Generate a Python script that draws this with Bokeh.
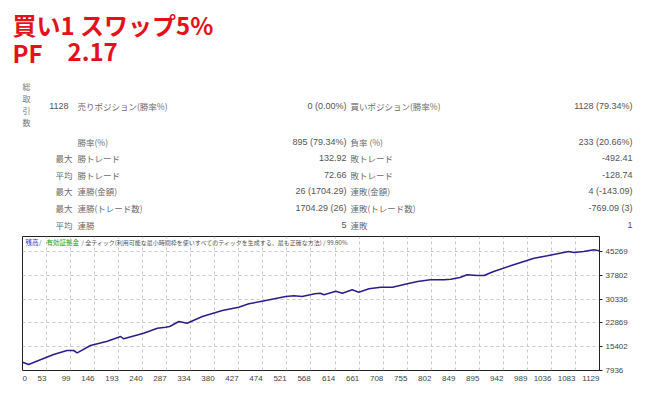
from bokeh.plotting import figure
from bokeh.models import Range1d, FixedTicker, Label
from bokeh.layouts import column
from bokeh.core.properties import value
from bokeh.embed import file_html
from bokeh.resources import INLINE

# ---------------- data ----------------
trade_index = [0, 12, 35, 61, 87, 100, 107, 133, 166, 192, 198, 237, 264, 280, 288, 306, 322,
               352, 391, 423, 443, 476, 515, 531, 547, 572, 583, 590, 613, 626, 645, 658, 678,
               701, 724, 753, 773, 798, 825, 838, 856, 870, 890, 903, 922, 955, 1001, 1027,
               1059, 1069, 1079, 1098, 1118, 1128]
balance = [10540, 9818, 11292, 12955, 14210, 14210, 13490, 15780, 17130, 18600, 17880, 19640,
           21200, 21520, 21740, 23310, 22770, 24870, 26760, 27790, 28860, 29890, 31150, 31370,
           31150, 32000, 32180, 31680, 32810, 32180, 33250, 32500, 33560, 34070, 34070, 35130,
           35860, 36390, 36390, 36580, 37100, 37960, 37740, 37740, 38990, 40780, 43160, 43920,
           44950, 45270, 44950, 45270, 45800, 45490]

x_tick_labels = ["0", "53", "99", "146", "193", "240", "287", "334", "380", "427", "474", "521",
                 "568", "614", "661", "708", "755", "802", "849", "895", "942", "989", "1036",
                 "1083", "1129"]
y_tick_values = [7936, 15402, 22869, 30336, 37802, 45269]

title_line = "買い1 スワップ5%"
pf_label = "PF"
pf_value = "2.17"

total_label_chars = ["総", "取", "引", "数"]
total_trades = "1128"
row_prefix = ["", "", "最大", "平均", "最大", "最大", "平均"]
left_labels = ["売りポジション(勝率%)", "勝率(%)", "勝トレード", "勝トレード", "連勝(金額)",
               "連勝(トレード数)", "連勝"]
left_values = ["0 (0.00%)", "895 (79.34%)", "132.92", "72.66", "26 (1704.29)",
               "1704.29 (26)", "5"]
right_labels = ["買いポジション(勝率%)", "負率 (%)", "敗トレード", "敗トレード", "連敗(金額)",
                "連敗(トレード数)", "連敗"]
right_values = ["1128 (79.34%)", "233 (20.66%)", "-492.41", "-128.74", "4 (-143.09)",
                "-769.09 (3)", "1"]

legend_balance = "残高"
legend_equity = "有効証拠金"
legend_rest = "/ 全ティック(利用可能な最小時間枠を使いすべてのティックを生成する、最も正確な方法) / 99.90%"

# ---------------- layout constants (page pixels) ----------------
W = 658
FRAME_L, FRAME_T, FRAME_R, FRAME_B = 22, 236, 599, 370
HEAD_H = FRAME_T - 1
CHART_BOTTOM_PAD = 5
AXIS_H = 20
CJK = "Noto Sans CJK JP"
NUM = "Liberation Sans Narrow, Liberation Sans, sans-serif"
LABEL_C = "#6b6b6b"
VALUE_C = "#555555"
RED = "#e6101a"

x_max = 1129
y_min, y_max = 7936, 49970


def bare(fig):
    fig.axis.visible = False
    fig.grid.visible = False
    fig.outline_line_color = None
    fig.background_fill_color = "white"
    fig.border_fill_color = "white"
    return fig


# ---------------- header (title + statistics table) ----------------
head = bare(figure(width=W, height=HEAD_H, output_backend="svg", toolbar_location=None,
                   x_range=Range1d(0, W), y_range=Range1d(HEAD_H, 0),
                   min_border=0, frame_align=False))


def txt(fig, xs, ys, texts, font=CJK, size="8.5px", color=LABEL_C, align="left",
        baseline="middle", style="normal"):
    fig.text(x=xs, y=ys, text=texts, text_font=value(font), text_font_size=size,
             text_color=color, text_align=align, text_baseline=baseline,
             text_font_style=style)


txt(head, [12], [24], [title_line], size="24px", color=RED, style="bold")
txt(head, [12, 67], [51.5, 51.5], [pf_label, pf_value], size="24px", color=RED, style="bold")

txt(head, [22] * len(total_label_chars), [86 + 12 * i for i in range(len(total_label_chars))],
    total_label_chars, size="8px", color="#777777")

row_y = [105, 141, 157.5, 174, 190.5, 207, 224]
txt(head, [68], [row_y[0]], [total_trades], font=NUM, size="9px", color=VALUE_C, align="right")
pre_rows = [i for i in range(len(row_y)) if row_prefix[i]]
txt(head, [55] * len(pre_rows), [row_y[i] for i in pre_rows], [row_prefix[i] for i in pre_rows])
txt(head, [77] * len(row_y), row_y, left_labels)
txt(head, [346] * len(row_y), row_y, left_values, font=NUM, size="9px", color=VALUE_C,
    align="right")
txt(head, [350] * len(row_y), row_y, right_labels)
txt(head, [632] * len(row_y), row_y, right_values, font=NUM, size="9px", color=VALUE_C,
    align="right")

# ---------------- chart ----------------
x_range = Range1d(0, x_max)
p = figure(width=W, height=(FRAME_B - FRAME_T) + 1 + CHART_BOTTOM_PAD, output_backend="svg",
           toolbar_location=None, x_range=x_range, y_range=Range1d(y_min, y_max),
           y_axis_location="right", frame_align=False,
           min_border_left=FRAME_L, min_border_top=1,
           min_border_right=W - FRAME_R, min_border_bottom=CHART_BOTTOM_PAD)
p.background_fill_color = "white"
p.border_fill_color = "white"
p.outline_line_color = "#222222"
p.outline_line_width = 1

n_ticks = len(x_tick_labels)
x_tick_pos = [round(k * x_max / (n_ticks - 1)) for k in range(n_ticks)]

p.xaxis.visible = False
p.xgrid.ticker = FixedTicker(ticks=x_tick_pos)
p.xgrid.grid_line_color = "#c9c9c9"
p.xgrid.grid_line_dash = "3 3"
p.ygrid.ticker = FixedTicker(ticks=y_tick_values)
p.ygrid.grid_line_color = "#c9c9c9"
p.ygrid.grid_line_dash = "3 3"

ya = p.yaxis[0]
ya.ticker = FixedTicker(ticks=y_tick_values)
ya.major_tick_out = 3
ya.major_tick_in = 0
ya.minor_tick_out = 0
ya.minor_tick_in = 0
ya.axis_line_color = "#222222"
ya.major_tick_line_color = "#222222"
ya.major_label_standoff = 3
ya.major_label_text_font = NUM
ya.major_label_text_font_size = "8px"
ya.major_label_text_color = "#444444"
ya.formatter.use_scientific = False

p.line(trade_index, balance, line_color="#2b1d8e", line_width=1.5)


def leg(px, text, color, size="6.5px"):
    p.add_layout(Label(x=px - FRAME_L, y=FRAME_B - 241.5, x_units="screen", y_units="screen",
                       text=text, text_font=CJK, text_font_size=size, text_color=color,
                       text_align="left", text_baseline="middle"))


leg(25, legend_balance, "#2233cc")
leg(38.5, "/", "#555555")
leg(46, legend_equity, "#11a011")
leg(81, legend_rest, "#555555", size="6px")

# ---------------- x tick labels (right-aligned to the grid lines) ----------------
px_per_unit = (FRAME_R - FRAME_L) / x_max
ax = bare(figure(width=W, height=AXIS_H, output_backend="svg", toolbar_location=None,
                 x_range=Range1d(-FRAME_L / px_per_unit, x_max + (W - FRAME_R) / px_per_unit),
                 y_range=Range1d(AXIS_H, 0), min_border=0, frame_align=False))
txt(ax, [x_tick_pos[0]], [0], [x_tick_labels[0]], font=NUM, size="8px", color="#444444",
    align="left", baseline="top")
txt(ax, x_tick_pos[1:], [0] * (n_ticks - 1), x_tick_labels[1:], font=NUM, size="8px",
    color="#444444", align="right", baseline="top")

layout = column(head, p, ax, spacing=0)
open("out.html", "w").write(file_html(layout, INLINE))
